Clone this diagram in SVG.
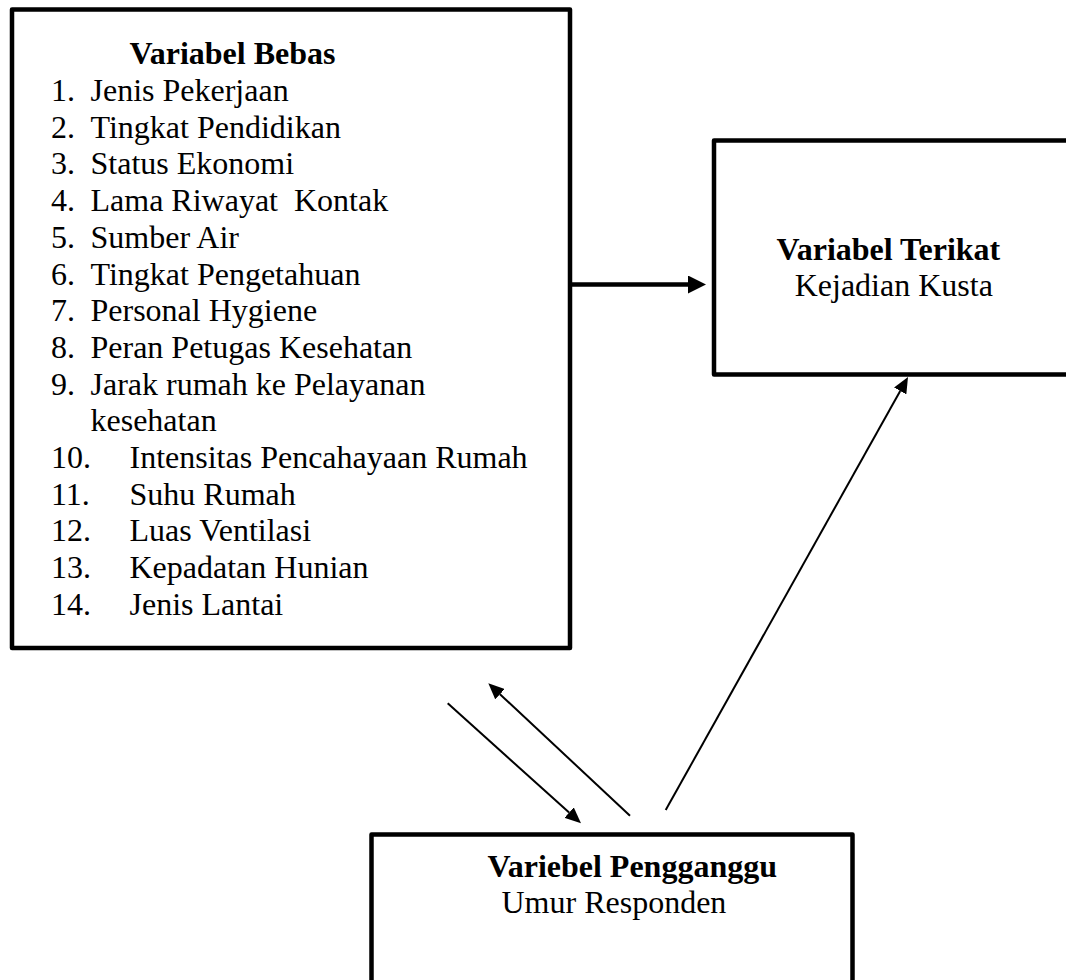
<svg xmlns="http://www.w3.org/2000/svg" width="1066" height="980" viewBox="0 0 1066 980">
  <style>
    .box { fill: #ffffff; stroke: #000000; stroke-width: 4.5; stroke-linejoin: round; }
    .t { font-family: "Liberation Serif", "Times New Roman", serif; font-size: 32px; fill: #000000; }
    .b { font-weight: bold; }
    .thick { stroke: #000000; stroke-width: 4.5; fill: none; }
    .thin { stroke: #000000; stroke-width: 2; fill: none; }
  </style>
  <defs>
    <marker id="headThick" markerUnits="userSpaceOnUse" viewBox="0 0 18 18" refX="0" refY="9" markerWidth="18" markerHeight="18" orient="auto">
      <path d="M0,0 L18,9 L0,18 z" fill="#000000"/>
    </marker>
    <marker id="headThin" markerUnits="userSpaceOnUse" viewBox="0 0 16 14" refX="0" refY="7" markerWidth="16" markerHeight="14" orient="auto">
      <path d="M0,0 L16,7 L0,14 z" fill="#000000"/>
    </marker>
  </defs>
  <rect width="1066" height="980" fill="#ffffff"/>

  <g id="node-bebas">
    <rect class="box" x="12" y="9.5" width="558" height="638.5"/>
    <text class="t b" x="129.5" y="64.3">Variabel Bebas</text>
    <text class="t" x="51" y="101">1.</text><text class="t" x="90.5" y="101">Jenis Pekerjaan</text>
    <text class="t" x="51" y="137.7">2.</text><text class="t" x="90.5" y="137.7">Tingkat Pendidikan</text>
    <text class="t" x="51" y="174.4">3.</text><text class="t" x="90.5" y="174.4">Status Ekonomi</text>
    <text class="t" x="51" y="211.1">4.</text><text class="t" x="90.5" y="211.1" style="white-space:pre">Lama Riwayat  Kontak</text>
    <text class="t" x="51" y="247.8">5.</text><text class="t" x="90.5" y="247.8">Sumber Air</text>
    <text class="t" x="51" y="284.5">6.</text><text class="t" x="90.5" y="284.5">Tingkat Pengetahuan</text>
    <text class="t" x="51" y="321.2">7.</text><text class="t" x="90.5" y="321.2">Personal Hygiene</text>
    <text class="t" x="51" y="357.9">8.</text><text class="t" x="90.5" y="357.9">Peran Petugas Kesehatan</text>
    <text class="t" x="51" y="394.6">9.</text><text class="t" x="90.5" y="394.6">Jarak rumah ke Pelayanan</text>
    <text class="t" x="90.5" y="431.3">kesehatan</text>
    <text class="t" x="51" y="468">10.</text><text class="t" x="129.5" y="468">Intensitas Pencahayaan Rumah</text>
    <text class="t" x="51" y="504.7">11.</text><text class="t" x="129.5" y="504.7">Suhu Rumah</text>
    <text class="t" x="51" y="541.4">12.</text><text class="t" x="129.5" y="541.4">Luas Ventilasi</text>
    <text class="t" x="51" y="578.1">13.</text><text class="t" x="129.5" y="578.1">Kepadatan Hunian</text>
    <text class="t" x="51" y="614.8">14.</text><text class="t" x="129.5" y="614.8">Jenis Lantai</text>
  </g>

  <g id="node-terikat">
    <rect class="box" x="714" y="140.5" width="360" height="234"/>
    <text class="t b" x="776.5" y="260">Variabel Terikat</text>
    <text class="t" x="794.7" y="296">Kejadian Kusta</text>
  </g>

  <g id="node-pengganggu">
    <rect class="box" x="371.5" y="834.5" width="481" height="160"/>
    <text class="t b" x="487.5" y="877">Variebel Pengganggu</text>
    <text class="t" x="501.5" y="913">Umur Responden</text>
  </g>

  <g id="connectors">
    <line class="thick" x1="572" y1="284.5" x2="688" y2="284.5" marker-end="url(#headThick)"/>
    <line class="thin" x1="447.7" y1="703.3" x2="569.1" y2="812.6" marker-end="url(#headThin)"/>
    <line class="thin" x1="630" y1="815.7" x2="500" y2="694.2" marker-end="url(#headThin)"/>
    <line class="thin" x1="665.7" y1="810" x2="900.2" y2="391" marker-end="url(#headThin)"/>
  </g>
</svg>
